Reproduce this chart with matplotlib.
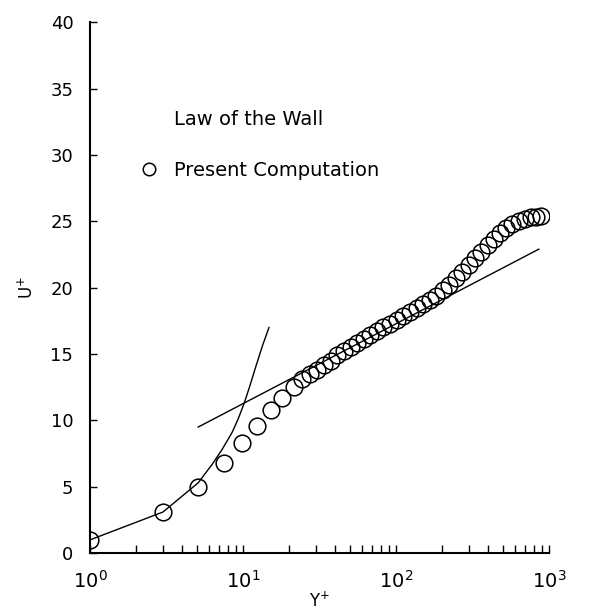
"""Law of the wall vs. present computation (U+ vs Y+)."""

import matplotlib

matplotlib.use("Agg")
import matplotlib.pyplot as plt
from matplotlib.lines import Line2D

# Present computation (circles)
yplus_comp = [
    1.0, 3.0, 5.1, 7.5, 9.8, 12.3, 15.2, 18.1, 21.7, 24.5,
    27.5, 30.5, 34, 37.5, 41.5, 46, 51, 56, 62, 68,
    75, 83, 92, 101, 112, 124, 137, 151, 167, 184,
    203, 224, 247, 272, 300, 330, 362, 398, 437, 480,
    527, 578, 634, 695, 760, 830, 890,
]
uplus_comp = [
    1.0, 3.1, 5.0, 6.8, 8.3, 9.6, 10.8, 11.7, 12.5, 13.1,
    13.5, 13.8, 14.2, 14.5, 14.9, 15.2, 15.5, 15.8, 16.1, 16.4,
    16.7, 17.0, 17.3, 17.6, 17.9, 18.2, 18.5, 18.8, 19.1, 19.4,
    19.8, 20.2, 20.7, 21.2, 21.7, 22.2, 22.7, 23.2, 23.7, 24.1,
    24.5, 24.8, 25.05, 25.2, 25.3, 25.35, 25.4,
]

# Law of the wall: viscous sublayer branch
yplus_visc = [1.0, 3.0, 5.1, 6.3, 7.3, 8.5, 9.3, 10.2, 11.1, 12.1, 13.4, 14.8]
uplus_visc = [1.0, 3.1, 5.3, 6.7, 7.8, 9.1, 10.1, 11.3, 12.6, 14.0, 15.6, 17.0]

# Law of the wall: log-law branch
yplus_log = [5.1, 860]
uplus_log = [9.5, 22.9]

yticks = [0, 5, 10, 15, 20, 25, 30, 35, 40]

plt.rcParams.update({"font.family": "DejaVu Sans", "font.size": 12})

fig = plt.figure(figsize=(5.92, 6.16), dpi=100)
ax = fig.add_axes([0.152, 0.102, 0.775, 0.862])

ax.plot(yplus_visc, uplus_visc, color="black", linewidth=1.0)
ax.plot(yplus_log, uplus_log, color="black", linewidth=1.0)
ax.plot(
    yplus_comp,
    uplus_comp,
    linestyle="none",
    marker="o",
    markersize=12,
    markerfacecolor="none",
    markeredgecolor="black",
    markeredgewidth=1.1,
)

ax.set_xscale("log")
ax.set_xlim(1, 1000)
ax.set_ylim(0, 40)
ax.set_yticks(yticks)

for side in ("top", "right"):
    ax.spines[side].set_visible(False)
for side in ("left", "bottom"):
    ax.spines[side].set_linewidth(1.5)

ax.tick_params(axis="both", which="both", direction="in", width=1.0)
ax.tick_params(axis="y", which="major", length=5, pad=12, labelsize=13)
ax.tick_params(axis="x", which="major", length=6, pad=12, labelsize=14)
ax.tick_params(axis="x", which="minor", length=6)
ax.tick_params(axis="y", which="minor", left=False)

ax.set_xlabel("Y$^{+}$", fontsize=12, labelpad=0)
ax.set_ylabel("U$^{+}$", fontsize=12, labelpad=10)

handles = [
    Line2D([], [], linestyle="none", marker="None"),
    Line2D([], [], linestyle="none", marker="o", markersize=9,
           markerfacecolor="none", markeredgecolor="black", markeredgewidth=1.1),
]
ax.legend(
    handles,
    ["Law of the Wall", "Present Computation"],
    loc="upper left",
    bbox_to_anchor=(0.087, 0.852),
    frameon=False,
    fontsize=14,
    borderpad=0,
    handlelength=1.0,
    handletextpad=0.75,
    labelspacing=1.6,
)

fig.savefig("out.png", dpi=100)
